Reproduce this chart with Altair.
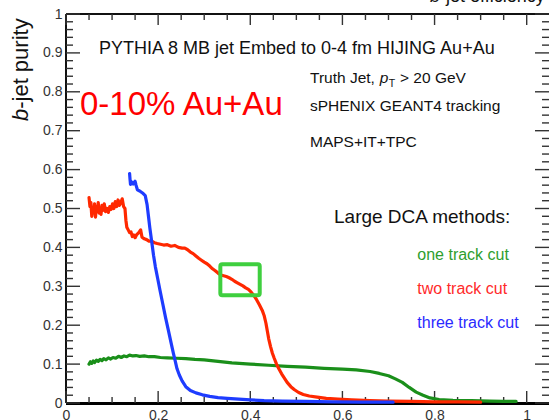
import altair as alt
import pandas as pd

# ---- curves: b-jet purity vs b-jet efficiency ----
one_eff = [0.050, 0.053, 0.056, 0.059, 0.062, 0.066, 0.070, 0.074, 0.078, 0.082,
           0.087, 0.092, 0.097, 0.102, 0.108, 0.114, 0.120, 0.126, 0.132, 0.138,
           0.145, 0.152, 0.160, 0.170, 0.180, 0.192, 0.205, 0.220, 0.240, 0.260,
           0.280, 0.300, 0.330, 0.360, 0.400, 0.440, 0.480, 0.520, 0.560, 0.600,
           0.630, 0.660, 0.680, 0.700, 0.715, 0.730, 0.745, 0.760, 0.775, 0.790,
           0.810, 0.840, 0.880, 0.920, 0.950, 0.977]
one_pur = [0.100, 0.106, 0.102, 0.108, 0.104, 0.110, 0.107, 0.112, 0.109, 0.114,
           0.111, 0.116, 0.113, 0.117, 0.115, 0.120, 0.117, 0.121, 0.119, 0.123,
           0.121, 0.122, 0.120, 0.121, 0.119, 0.119, 0.117, 0.116, 0.115, 0.114,
           0.112, 0.111, 0.107, 0.103, 0.100, 0.097, 0.094, 0.092, 0.089, 0.087,
           0.085, 0.081, 0.076, 0.070, 0.062, 0.053, 0.040, 0.028, 0.020, 0.013,
           0.009, 0.007, 0.006, 0.005, 0.004, 0.004]

two_eff = [0.050, 0.052, 0.054, 0.056, 0.058, 0.060, 0.062, 0.064, 0.066, 0.068,
           0.070, 0.072, 0.074, 0.076, 0.078, 0.080, 0.083, 0.086, 0.089, 0.092,
           0.095, 0.098, 0.101, 0.104, 0.107, 0.110, 0.113, 0.116, 0.119, 0.122,
           0.125, 0.128, 0.130, 0.132, 0.135, 0.138, 0.141, 0.144, 0.147, 0.150,
           0.153, 0.158, 0.162, 0.165, 0.170, 0.175, 0.180, 0.186, 0.192, 0.198,
           0.205, 0.212, 0.220, 0.228, 0.236, 0.244, 0.252, 0.258, 0.264, 0.270,
           0.276, 0.282, 0.288, 0.294, 0.300, 0.306, 0.312, 0.318, 0.324, 0.330,
           0.336, 0.342, 0.348, 0.354, 0.360, 0.366, 0.372, 0.378, 0.384, 0.390,
           0.396, 0.402, 0.408, 0.414, 0.420, 0.426, 0.430, 0.434, 0.437, 0.440,
           0.444, 0.448, 0.452, 0.457, 0.462, 0.468, 0.474, 0.480, 0.488, 0.496,
           0.505, 0.515, 0.528, 0.545, 0.565, 0.590, 0.620, 0.660, 0.700, 0.750,
           0.800, 0.850, 0.900]
two_pur = [0.528, 0.505, 0.515, 0.480, 0.500, 0.490, 0.512, 0.478, 0.505, 0.492,
           0.515, 0.488, 0.500, 0.485, 0.508, 0.495, 0.512, 0.492, 0.500, 0.490,
           0.505, 0.498, 0.512, 0.500, 0.518, 0.505, 0.522, 0.508, 0.515, 0.525,
           0.505, 0.500, 0.470, 0.452, 0.445, 0.438, 0.440, 0.428, 0.432, 0.425,
           0.432, 0.438, 0.445, 0.426, 0.422, 0.420, 0.416, 0.416, 0.412, 0.410,
           0.408, 0.406, 0.407, 0.403, 0.405, 0.400, 0.398, 0.398, 0.394, 0.388,
           0.384, 0.378, 0.372, 0.367, 0.362, 0.358, 0.352, 0.345, 0.340, 0.334,
           0.329, 0.327, 0.325, 0.322, 0.318, 0.313, 0.309, 0.305, 0.301, 0.296,
           0.292, 0.285, 0.276, 0.265, 0.252, 0.238, 0.225, 0.205, 0.185, 0.165,
           0.145, 0.128, 0.115, 0.100, 0.088, 0.075, 0.064, 0.053, 0.042, 0.034,
           0.027, 0.022, 0.018, 0.015, 0.012, 0.010, 0.008, 0.006, 0.005, 0.004,
           0.003, 0.003, 0.002]

three_eff = [0.138, 0.139, 0.140, 0.143, 0.146, 0.150, 0.152, 0.155, 0.160, 0.166,
             0.172, 0.176, 0.179, 0.182, 0.186, 0.190, 0.194, 0.199, 0.204, 0.210,
             0.216, 0.222, 0.228, 0.233, 0.237, 0.241, 0.246, 0.252, 0.260, 0.270,
             0.282, 0.296, 0.312, 0.330, 0.350, 0.375, 0.400, 0.430, 0.470, 0.520,
             0.580, 0.640, 0.710]
three_pur = [0.590, 0.575, 0.562, 0.568, 0.563, 0.570, 0.560, 0.548, 0.545, 0.540,
             0.533, 0.510, 0.480, 0.450, 0.415, 0.380, 0.350, 0.320, 0.290, 0.255,
             0.220, 0.188, 0.155, 0.128, 0.108, 0.088, 0.072, 0.057, 0.042, 0.032,
             0.026, 0.021, 0.017, 0.014, 0.012, 0.010, 0.008, 0.006, 0.005, 0.004,
             0.003, 0.002, 0.002]

# ---- axis ticks ----
x_major = [0, 0.2, 0.4, 0.6, 0.8, 1.0]
x_minor = [0.05, 0.1, 0.15, 0.25, 0.3, 0.35, 0.45, 0.5, 0.55, 0.65, 0.7, 0.75,
           0.85, 0.9, 0.95]
y_major = [0, 0.1, 0.2, 0.3, 0.4, 0.5, 0.6, 0.7, 0.8, 0.9, 1.0]
y_minor = [round(i * 0.02, 2) for i in range(1, 50) if i % 5]

W, H = 483, 389
XMAX = 1.0484
FONT = "Liberation Sans"

xs = alt.Scale(domain=[0, XMAX], nice=False, zero=False)
ys = alt.Scale(domain=[0, 1], nice=False, zero=False)

# one shared axis definition per channel, used by every layer
XAX = alt.Axis(values=x_major, format="~g", ticks=False, domain=False,
               grid=False, labelFlush=False, labelOverlap=False,
               labelPadding=5, labelFontSize=14, labelColor="#333",
               labelFont=FONT, title=None)
YAX = alt.Axis(values=y_major, format="~g", ticks=False, domain=False,
               grid=False, labelOverlap=False, labelPadding=4,
               labelFontSize=14, labelColor="#333", labelFont=FONT,
               title=None)


def curve(eff, pur, color):
    df = pd.DataFrame({"eff": eff, "pur": pur})
    return alt.Chart(df).mark_line(
        color=color, strokeWidth=3.2, strokeJoin="round", strokeCap="round"
    ).encode(
        x=alt.X("eff:Q", scale=xs, axis=XAX),
        y=alt.Y("pur:Q", scale=ys, axis=YAX),
    )


def xticks(values, length, top):
    y0, y1 = (0, length) if top else (H, H - length)
    return alt.Chart(pd.DataFrame({"v": values})).mark_rule(
        color="#333", strokeWidth=1.4
    ).encode(x=alt.X("v:Q", scale=xs, axis=XAX), y=alt.value(y0), y2=alt.value(y1))


def yticks(values, length, right):
    x0, x1 = (W, W - length) if right else (0, length)
    return alt.Chart(pd.DataFrame({"v": values})).mark_rule(
        color="#333", strokeWidth=1.4
    ).encode(y=alt.Y("v:Q", scale=ys, axis=YAX), x=alt.value(x0), x2=alt.value(x1))


def text(t, x, y, size, color="#111", italic=False, angle=0):
    kw = dict(align="left", baseline="alphabetic", font=FONT, fontSize=size,
              color=color, angle=angle)
    if italic:
        kw["fontStyle"] = "italic"
    return alt.Chart(pd.DataFrame({"t": [t]})).mark_text(**kw).encode(
        x=alt.value(x), y=alt.value(y), text="t:N")


# frame
frame = [
    alt.Chart(pd.DataFrame({"a": [0]})).mark_rule(color="#111", strokeWidth=2).encode(
        x=alt.value(0), y=alt.value(0), y2=alt.value(H)),
    alt.Chart(pd.DataFrame({"a": [0]})).mark_rule(color="#111", strokeWidth=2).encode(
        x=alt.value(0), x2=alt.value(W), y=alt.value(0)),
    alt.Chart(pd.DataFrame({"a": [0]})).mark_rule(color="#000", strokeWidth=3).encode(
        x=alt.value(0), x2=alt.value(W), y=alt.value(H + 0.5)),
]

ticks = [
    xticks(x_major, 12, False), xticks(x_minor, 6, False),
    xticks(x_major, 11, True), xticks(x_minor, 6, True),
    yticks(y_major, 14, False), yticks(y_minor, 7, False),
    yticks(y_major, 14, True), yticks(y_minor, 7, True),
]

curves = [
    curve(one_eff, one_pur, "#1a8f1a"),
    curve(two_eff, two_pur, "#ff2800"),
    curve(three_eff, three_pur, "#1e3cff"),
]

# highlight box around the working point
box = alt.Chart(pd.DataFrame({"x0": [0.335], "x1": [0.4205],
                              "y0": [0.357], "y1": [0.277]})).mark_rect(
    filled=False, stroke="#3fcf3f", strokeWidth=4, cornerRadius=2
).encode(
    x=alt.X("x0:Q", scale=xs, axis=XAX), x2="x1:Q",
    y=alt.Y("y0:Q", scale=ys, axis=YAX), y2="y1:Q",
)

labels = [
    text("PYTHIA 8 MB jet Embed to 0-4 fm HIJING Au+Au", 33, 40, 18),
    text("0-10% Au+Au", 14, 101, 33, color="#ff0000"),
    text("Truth Jet, ", 244, 69, 15.5),
    text("p", 313.8, 69, 15.5, italic=True),
    text("T", 322.7, 73, 10.5),
    text("> 20 GeV", 334, 69, 15.5),
    text("sPHENIX GEANT4 tracking", 244, 96.7, 15.5),
    text("MAPS+IT+TPC", 244, 133, 15.5),
    text("Large DCA methods:", 268, 209.3, 19),
    text("one track cut", 351.3, 246, 16, color="#2e9e2e"),
    text("two track cut", 351.3, 280.3, 16, color="#ff2a2a"),
    text("three track cut", 351.3, 314.3, 16, color="#2a2aff"),
    # y-axis title
    text("b", -38, 107, 22, italic=True, angle=270),
    text("-jet purity", -38, 94.8, 22, angle=270),
    # x-axis title running along the top edge
    text("b", 364, -12, 18, italic=True),
    text("-jet efficiency", 374, -12, 18),
]

chart = alt.layer(*frame, *ticks, *curves, box, *labels).properties(
    width=W, height=H,
    padding={"left": 66, "top": 14, "right": 0, "bottom": 17},
    autosize="none",
    background="white",
).configure_view(stroke=None)

chart.save("out.html", embed_options={"renderer": "svg", "actions": False})
